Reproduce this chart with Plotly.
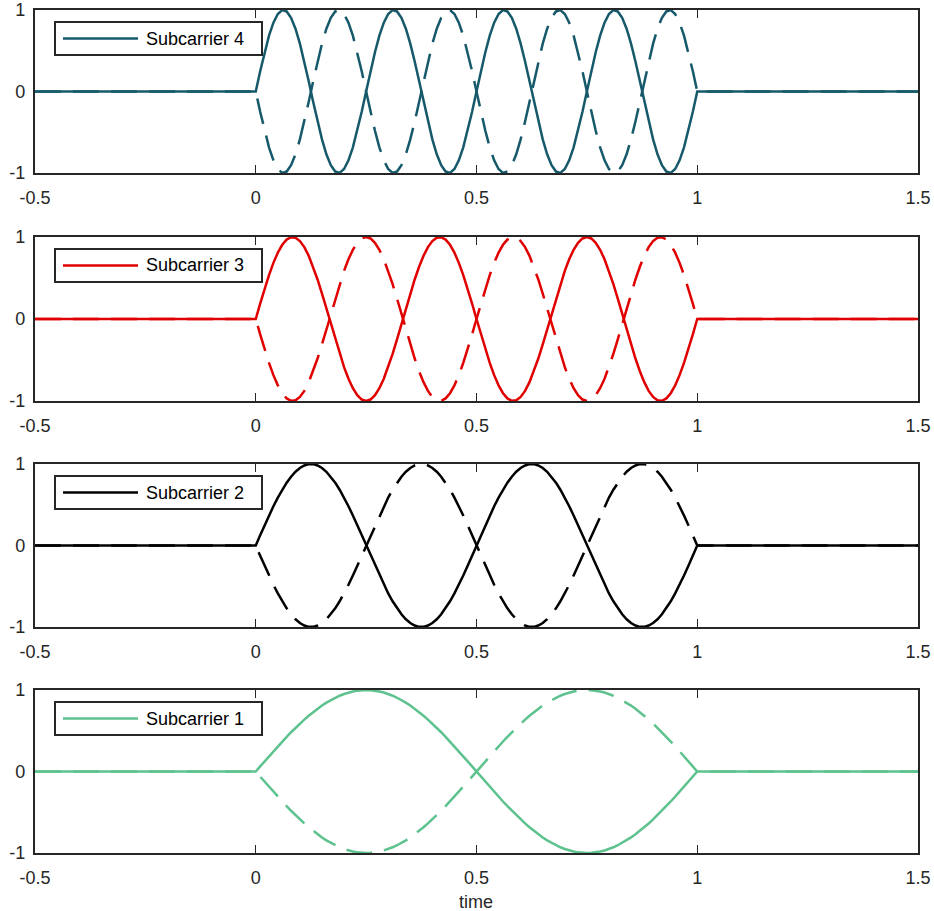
import numpy as np
import plotly.graph_objects as go

# values
names = ["Subcarrier 4", "Subcarrier 3", "Subcarrier 2", "Subcarrier 1"]
freqs = [4, 3, 2, 1]              # cycles per unit time
colors = ["#16596a", "#e00000", "#000000", "#5ec28f"]
t = np.arange(-50, 151) / 100     # time axis, -0.5 .. 1.5
x_ticks = [-0.5, 0, 0.5, 1, 1.5]
x_ticktext = ["-0.5", "0", "0.5", "1", "1.5"]
y_ticks = [-1, 0, 1]
y_ticktext = ["-1", "0", "1"]

W, H = 934, 911
left, right = 35, 918
tops = [10, 237, 464, 690]
bottoms = [173, 401, 627, 853]

axis_col = "#262626"
font = dict(family="Liberation Sans, Arial, sans-serif", size=18, color=axis_col)

fig = go.Figure()
shapes = []
annotations = []

for i, (name, f, col) in enumerate(zip(names, freqs, colors)):
    n = i + 1
    xa = "x" if n == 1 else f"x{n}"
    ya = "y" if n == 1 else f"y{n}"
    on = (t >= 0) & (t <= 1)
    s = np.where(on, np.sin(2 * np.pi * f * t), 0.0)

    fig.add_trace(go.Scatter(x=t, y=s, mode="lines", xaxis=xa, yaxis=ya,
                             line=dict(color=col, width=2.5), showlegend=False))
    fig.add_trace(go.Scatter(x=t, y=-s, mode="lines", xaxis=xa, yaxis=ya,
                             line=dict(color=col, width=2.5, dash="26px,12px"),
                             showlegend=False))

    dom_y = [1 - bottoms[i] / H, 1 - tops[i] / H]
    xkey = "xaxis" if n == 1 else f"xaxis{n}"
    ykey = "yaxis" if n == 1 else f"yaxis{n}"
    fig.update_layout({
        xkey: dict(domain=[left / W, right / W], anchor=ya, range=[-0.5, 1.5],
                   tickvals=x_ticks, ticktext=x_ticktext, ticks="inside",
                   ticklen=8, tickwidth=1.3, tickcolor=axis_col,
                   showline=True, linewidth=2.2, linecolor=axis_col,
                   mirror="allticks", showgrid=False, zeroline=False,
                   automargin=False, ticklabeloverflow="allow",
                   ticklabelstandoff=7, tickfont=font, layer="below traces"),
        ykey: dict(domain=dom_y, anchor=xa, range=[-1, 1],
                   tickvals=y_ticks, ticktext=y_ticktext, ticks="inside",
                   ticklen=8, tickwidth=1.3, tickcolor=axis_col,
                   showline=True, linewidth=2.2, linecolor=axis_col,
                   mirror="allticks", showgrid=False, zeroline=False,
                   automargin=False, ticklabeloverflow="allow",
                   ticklabelstandoff=4, tickfont=font, layer="below traces"),
    })

    # legend box, drawn by hand so the sample line has MATLAB's length
    by0 = tops[i] + 12
    by1 = tops[i] + 45
    shapes.append(dict(type="rect", xref="paper", yref="paper",
                       x0=55 / W, x1=262 / W, y0=1 - by1 / H, y1=1 - by0 / H,
                       line=dict(color=axis_col, width=2), fillcolor="white"))
    ym = 1 - (by0 + by1) / 2 / H
    shapes.append(dict(type="line", xref="paper", yref="paper",
                       x0=63 / W, x1=138 / W, y0=ym, y1=ym,
                       line=dict(color=col, width=2.5)))
    annotations.append(dict(text=name, xref="paper", yref="paper",
                            x=144 / W, y=ym, xanchor="left", yanchor="middle",
                            showarrow=False,
                            font=dict(family=font["family"], size=18, color="#000000")))

annotations.append(dict(text="time", xref="paper", yref="paper",
                        x=(left + right) / 2 / W, y=1 - 902 / H,
                        xanchor="center", yanchor="middle", showarrow=False,
                        font=font))

fig.update_layout(width=W, height=H, margin=dict(l=0, r=0, t=0, b=0),
                  paper_bgcolor="white", plot_bgcolor="white",
                  shapes=shapes, annotations=annotations, showlegend=False)

# drop the page's default 8px body margin so the figure fills the window
fig.write_html("out.html", config={"displayModeBar": False},
               post_script="document.body.style.margin='0';"
                           "document.body.style.overflow='hidden';")
